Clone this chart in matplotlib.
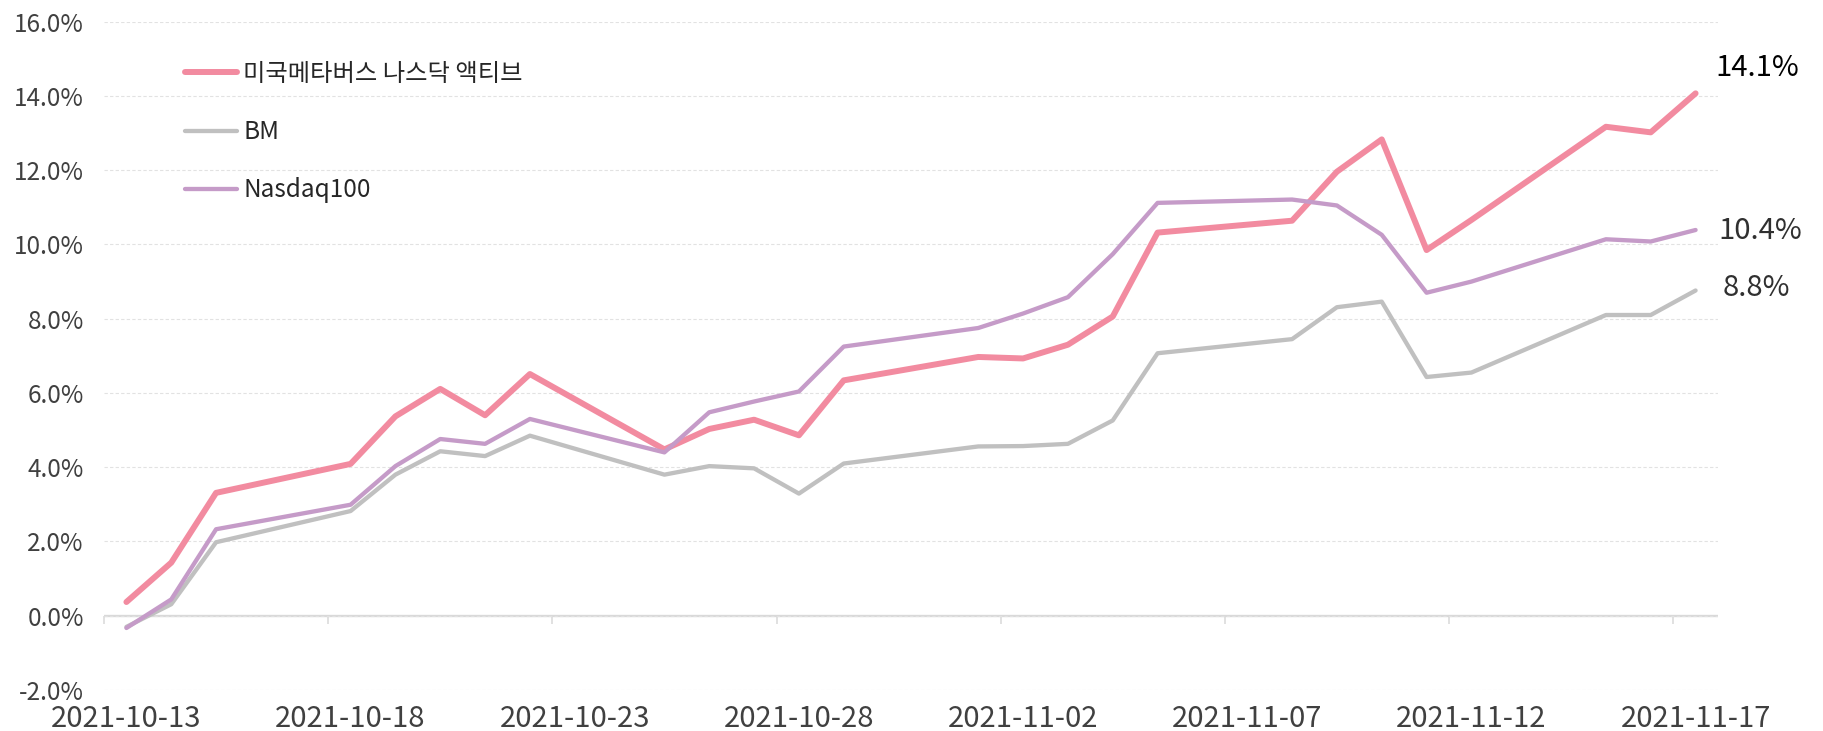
import numpy as np
import pandas as pd
import matplotlib
matplotlib.use('Agg')
import matplotlib.pyplot as plt
import matplotlib.dates as mdates

plt.rcParams['font.family'] = ['Noto Sans CJK KR', 'DejaVu Sans']

# trading days
dates = pd.to_datetime([
    '2021-10-13', '2021-10-14', '2021-10-15', '2021-10-18', '2021-10-19',
    '2021-10-20', '2021-10-21', '2021-10-22', '2021-10-25', '2021-10-26',
    '2021-10-27', '2021-10-28', '2021-10-29', '2021-11-01', '2021-11-02',
    '2021-11-03', '2021-11-04', '2021-11-05', '2021-11-08', '2021-11-09',
    '2021-11-10', '2021-11-11', '2021-11-12', '2021-11-15', '2021-11-16',
    '2021-11-17'])

# cumulative returns, %
fund = [0.37, 1.43, 3.31, 4.09, 5.37, 6.11, 5.40, 6.51, 4.48, 5.03,
        5.28, 4.86, 6.34, 6.97, 6.93, 7.30, 8.06, 10.32, 10.64, 11.96,
        12.83, 9.85, 10.66, 13.17, 13.02, 14.07]
bm = [-0.30, 0.31, 1.98, 2.82, 3.80, 4.43, 4.30, 4.85, 3.80, 4.03,
      3.97, 3.29, 4.10, 4.56, 4.57, 4.63, 5.26, 7.07, 7.45, 8.31,
      8.46, 6.43, 6.55, 8.10, 8.10, 8.76]
ndx = [-0.33, 0.44, 2.33, 2.99, 4.03, 4.76, 4.63, 5.30, 4.40, 5.48,
       5.77, 6.04, 7.25, 7.75, 8.14, 8.58, 9.74, 11.12, 11.21, 11.05,
       10.26, 8.70, 9.00, 10.14, 10.08, 10.39]

names = ['미국메타버스 나스닥 액티브', 'BM', 'Nasdaq100']
x_labels = ['2021-10-13', '2021-10-18', '2021-10-23', '2021-10-28',
            '2021-11-02', '2021-11-07', '2021-11-12', '2021-11-17']
y_ticks = [-2, 0, 2, 4, 6, 8, 10, 12, 14, 16]

c_fund = '#F28BA0'
c_bm = '#C0C0C0'
c_ndx = '#C59BC8'

fig = plt.figure(figsize=(18.23, 7.31), dpi=100)
ax = fig.add_axes([104 / 1823, 41 / 731, (1718 - 104) / 1823, (690 - 21.7) / 731])

l1, = ax.plot(dates, fund, color=c_fund, lw=4.3, solid_joinstyle='round',
              solid_capstyle='round', zorder=3, label=names[0])
l2, = ax.plot(dates, bm, color=c_bm, lw=3.1, solid_joinstyle='round',
              solid_capstyle='round', zorder=4, label=names[1])
l3, = ax.plot(dates, ndx, color=c_ndx, lw=3.1, solid_joinstyle='round',
              solid_capstyle='round', zorder=5, label=names[2])

ax.set_xlim(dates[0] - pd.Timedelta(hours=12), dates[-1] + pd.Timedelta(hours=12))
ax.set_ylim(-2, 16)
for s in ax.spines.values():
    s.set_visible(False)

ax.set_yticks(y_ticks)
ax.set_yticklabels([f'{v:.1f}%' for v in y_ticks])
ax.yaxis.grid(True, color='#e2e2e2', lw=0.8, ls=(0, (3, 2)), zorder=0)
ax.tick_params(axis='y', length=0, pad=14.5, labelsize=17.5, labelcolor='#404040')

ax.set_xticks(pd.to_datetime(x_labels))
ax.set_xticklabels(x_labels)
ax.tick_params(axis='x', length=0, pad=10, labelsize=21, labelcolor='#404040')

# zero line with tick marks between categories
ax.axhline(0, color='#d9d9d9', lw=1.7, zorder=1.5)
sec = ax.secondary_xaxis(2 / 18)
bounds = mdates.date2num(pd.to_datetime(x_labels) - pd.Timedelta(hours=12))
sec.set_xticks(bounds)
sec.tick_params(axis='x', length=6, width=1.1, color='#d9d9d9', direction='out',
                labelbottom=False, labeltop=False)
for s in sec.spines.values():
    s.set_visible(False)

ax.legend(handles=[l1, l2, l3], loc='upper left', bbox_to_anchor=(185 / 1823, 1 - 61 / 731),
          bbox_transform=fig.transFigure, frameon=False, fontsize=17.5,
          handlelength=2.15, handletextpad=0.25, labelspacing=1.32,
          borderpad=0, borderaxespad=0, labelcolor='#262626')

# end labels
last = dates[-1]
ax.annotate(f'{fund[-1]:.1f}%', xy=(last, fund[-1]), xytext=(62, 17), textcoords='offset pixels',
            ha='center', va='baseline', fontsize=21, color='black')
ax.annotate(f'{ndx[-1]:.1f}%', xy=(last, ndx[-1]), xytext=(65, -9), textcoords='offset pixels',
            ha='center', va='baseline', fontsize=21, color='#303030')
ax.annotate(f'{bm[-1]:.1f}%', xy=(last, bm[-1]), xytext=(61, -5), textcoords='offset pixels',
            ha='center', va='baseline', fontsize=21, color='#303030')

fig.savefig('out.png', dpi=100)
